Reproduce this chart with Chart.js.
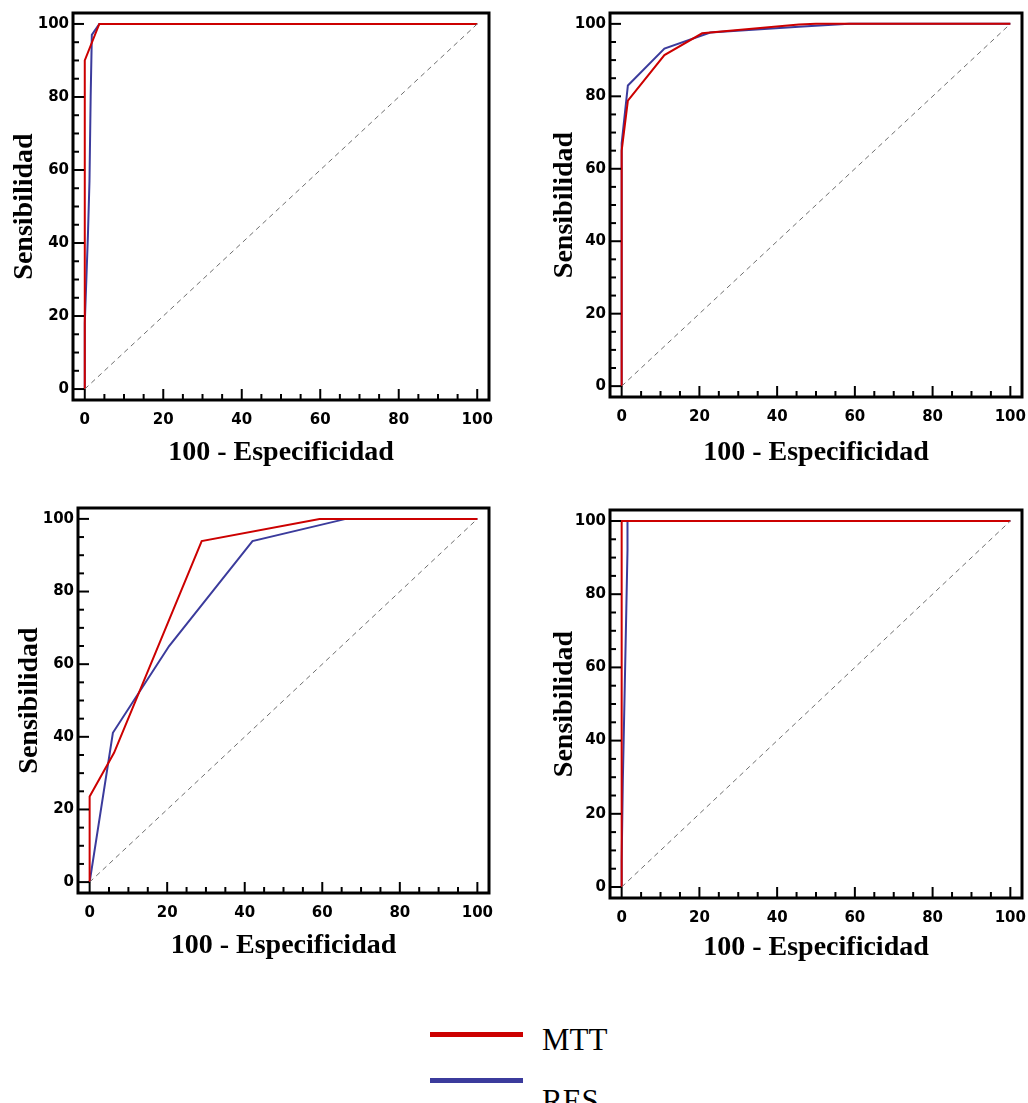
<!DOCTYPE html>
<html>
<head>
<meta charset="utf-8">
<script src="https://cdn.jsdelivr.net/npm/chart.js@4.4.1/dist/chart.umd.min.js"></script>
<style>
  body { margin: 0; background: #fff; width: 1028px; height: 1103px; position: relative; overflow: hidden; }
  .panel { position: absolute; }
  .leg-line { position: absolute; height: 5px; width: 93px; left: 430px; }
  .leg-text { position: absolute; left: 542px; font-family: "Liberation Serif", "Times New Roman", serif; font-size: 31px; line-height: 31px; color: #000; }
</style>
</head>
<body>
<div class="panel" style="left:0px;top:0px;width:514px;height:480px"><canvas id="c1"></canvas></div>
<div class="panel" style="left:520px;top:0px;width:508px;height:480px"><canvas id="c2"></canvas></div>
<div class="panel" style="left:0px;top:490px;width:514px;height:490px"><canvas id="c3"></canvas></div>
<div class="panel" style="left:520px;top:490px;width:508px;height:490px"><canvas id="c4"></canvas></div>

<div class="leg-line" style="top:1032px;background:#cc0000"></div>
<div class="leg-text" style="top:1024px">MTT</div>
<div class="leg-line" style="top:1078px;background:#3b3b9c"></div>
<div class="leg-text" style="top:1085px">RES</div>

<script>
// ROC curves: x = 100 - Especificidad, y = Sensibilidad
const p1MttX = [0, 0, 3.7, 100]
const p1MttY = [0, 90, 100, 100]
const p1ResX = [0, 0, 0.8, 1.2, 1.5, 1.8, 3.7, 100]
const p1ResY = [0, 18, 42, 57, 80, 97, 100, 100]

const p2MttX = [0, 0, 1.6, 11, 20.7, 45.6, 50, 100]
const p2MttY = [0, 65, 78.8, 91.4, 97.4, 99.8, 100, 100]
const p2ResX = [0, 0, 1.6, 11, 22.8, 45.6, 58.5, 100]
const p2ResY = [0, 67, 83, 93.2, 97.6, 99.2, 100, 100]

const p3MttX = [0, 0, 6.3, 28.9, 59.3, 100]
const p3MttY = [0, 23.6, 35.6, 93.9, 100, 100]
const p3ResX = [0, 6.0, 20.5, 42.0, 66.1, 100]
const p3ResY = [0, 41.1, 65, 93.9, 100, 100]

const p4MttX = [0, 0, 100]
const p4MttY = [0, 100, 100]
const p4ResX = [0, 0, 0.3, 0.8, 1.2, 1.5, 1.5, 100]
const p4ResY = [0, 7, 29, 55, 76, 92, 100, 100]

const diagX = [0, 100]
const diagY = [0, 100]

const tickValues = [0, 20, 40, 60, 80, 100]
const minorValues = [0, 5, 10, 15, 20, 25, 30, 35, 40, 45, 50, 55, 60, 65, 70, 75, 80, 85, 90, 95, 100]

const xTitle = "100 - Especificidad"
const yTitle = "Sensibilidad"

const toPoints = (xs, ys) => xs.map((x, i) => ({ x: x, y: ys[i] }))

// frame and inner tick marks
const framePlugin = {
  id: 'frame',
  afterDraw(chart) {
    const ctx = chart.ctx
    const a = chart.chartArea
    const xs = chart.scales.x
    const ys = chart.scales.y
    ctx.save()
    ctx.strokeStyle = '#000'
    ctx.lineWidth = 2
    for (const v of minorValues) {
      const len = tickValues.includes(v) ? 11 : 6
      const px = xs.getPixelForValue(v)
      ctx.beginPath()
      ctx.moveTo(px, a.bottom)
      ctx.lineTo(px, a.bottom - len)
      ctx.stroke()
      const py = ys.getPixelForValue(v)
      ctx.beginPath()
      ctx.moveTo(a.left, py)
      ctx.lineTo(a.left + len, py)
      ctx.stroke()
    }
    ctx.lineWidth = 3
    ctx.strokeRect(a.left, a.top, a.right - a.left, a.bottom - a.top)
    ctx.restore()
  }
}

const panels = [
  { id: 'c1', box: [0, 0, 514, 480], area: [73, 13, 489, 400], yTitleX: 25, xTitleY: 453, mtt: [p1MttX, p1MttY], res: [p1ResX, p1ResY] },
  { id: 'c2', box: [520, 0, 508, 480], area: [610, 13, 1022, 397], yTitleX: 565, xTitleY: 453, mtt: [p2MttX, p2MttY], res: [p2ResX, p2ResY] },
  { id: 'c3', box: [0, 490, 514, 490], area: [78, 508, 489, 893], yTitleX: 30, xTitleY: 946, mtt: [p3MttX, p3MttY], res: [p3ResX, p3ResY] },
  { id: 'c4', box: [520, 490, 508, 490], area: [610, 510, 1022, 898], yTitleX: 565, xTitleY: 948, mtt: [p4MttX, p4MttY], res: [p4ResX, p4ResY] },
]

const tickFont = { family: '"DejaVu Sans", Verdana, sans-serif', size: 15, weight: 'bold' }
const titleFont = { family: '"Liberation Serif", "Times New Roman", serif', size: 28, weight: 'bold', lineHeight: 1.2 }

const noPad = s => { s.paddingLeft = 0; s.paddingRight = 0; s.paddingTop = 0; s.paddingBottom = 0 }

for (const p of panels) {
  const [bx, by, bw, bh] = p.box
  const [l, t, r, b] = p.area
  const yAxisW = l - bx
  const xAxisH = by + bh - b
  const half = titleFont.size * titleFont.lineHeight / 2
  const yPad = p.yTitleX - bx - half
  const xPad = by + bh - p.xTitleY - half

  new Chart(document.getElementById(p.id), {
    type: 'scatter',
    data: {
      datasets: [
        { label: 'diag', data: toPoints(diagX, diagY), showLine: true, borderColor: '#6e6e6e', borderWidth: 1, borderDash: [5, 4], pointRadius: 0 },
        { label: 'MTT', data: toPoints(p.mtt[0], p.mtt[1]), showLine: true, borderColor: '#cc0000', borderWidth: 2, pointRadius: 0 },
        { label: 'RES', data: toPoints(p.res[0], p.res[1]), showLine: true, borderColor: '#3b3b9c', borderWidth: 2, pointRadius: 0 },
      ]
    },
    options: {
      responsive: true,
      maintainAspectRatio: false,
      animation: false,
      layout: { autoPadding: false, padding: { left: 0, bottom: 0, top: t - by, right: bx + bw - r } },
      plugins: { legend: { display: false }, tooltip: { enabled: false } },
      scales: {
        x: {
          type: 'linear', min: -3, max: 103,
          grid: { display: false, drawTicks: false },
          border: { display: false },
          afterBuildTicks: s => { s.ticks = tickValues.map(v => ({ value: v })) },
          afterFit: s => { s.height = xAxisH; noPad(s) },
          ticks: { font: tickFont, color: '#000', padding: 11, maxRotation: 0 },
          title: { display: true, text: xTitle, font: titleFont, color: '#000', padding: { top: 0, bottom: xPad } }
        },
        y: {
          type: 'linear', min: -3, max: 103,
          grid: { display: false, drawTicks: false },
          border: { display: false },
          afterBuildTicks: s => { s.ticks = tickValues.map(v => ({ value: v })) },
          afterFit: s => { s.width = yAxisW; noPad(s) },
          ticks: { font: tickFont, color: '#000', padding: 4 },
          title: { display: true, text: yTitle, font: titleFont, color: '#000', padding: { top: yPad, bottom: 0 } }
        }
      }
    },
    plugins: [framePlugin]
  })
}
</script>
</body>
</html>
